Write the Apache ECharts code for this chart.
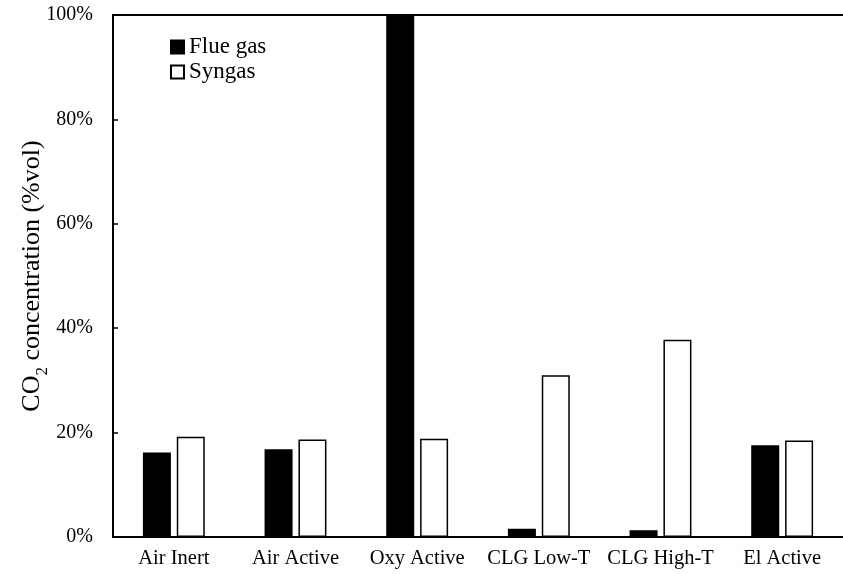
<!DOCTYPE html>
<html>
<head>
<meta charset="utf-8">
<script src="https://cdn.jsdelivr.net/npm/echarts@6/dist/echarts.min.js"></script>
<style>
  html, body { margin: 0; padding: 0; background: #fff; }
  #chart { width: 843px; height: 574px; }
</style>
</head>
<body>
<div id="chart"></div>
<script>
// CO2 concentration by operating mode
const categories = ['Air Inert', 'Air Active', 'Oxy Active', 'CLG Low-T', 'CLG High-T', 'El Active'];
const flueGas = [16.2, 16.8, 100, 1.6, 1.3, 17.6];
const syngas = [19.2, 18.7, 18.8, 31.0, 37.8, 18.5];
const seriesNames = ['Flue gas', 'Syngas'];

const FONT = '"Liberation Serif", "Times New Roman", serif';

const chart = echarts.init(document.getElementById('chart'));
chart.setOption({
  animation: false,
  textStyle: { fontFamily: FONT, color: '#000' },
  grid: { left: 113, right: 0, top: 15, bottom: 37, containLabel: false, outerBoundsMode: 'none' },
  legend: {
    orient: 'vertical',
    left: 165,
    top: 30,
    itemWidth: 13,
    itemHeight: 13,
    itemGap: 1,
    icon: 'rect',
    textStyle: { fontFamily: FONT, fontSize: 23, lineHeight: 24, color: '#000' },
    data: seriesNames
  },
  xAxis: [{
    type: 'category',
    data: categories,
    axisLine: { lineStyle: { color: '#000', width: 2 } },
    axisTick: { show: false },
    axisLabel: { fontFamily: FONT, fontSize: 20.5, color: '#000', margin: 11, interval: 0, hideOverlap: false }
  }, {
    type: 'category',
    position: 'top',
    data: categories,
    axisLine: { lineStyle: { color: '#000', width: 2 } },
    axisTick: { show: false },
    axisLabel: { show: false }
  }],
  yAxis: {
    type: 'value',
    min: 0,
    max: 100,
    interval: 20,
    name: '{a|CO}{s|2}{a| concentration (%vol)}',
    nameLocation: 'middle',
    nameGap: 68,
    nameMoveOverlap: false,
    nameRotate: 90,
    nameTextStyle: {
      rich: {
        a: { fontFamily: FONT, fontSize: 26, color: '#000', lineHeight: 30, verticalAlign: 'bottom' },
        s: { fontFamily: FONT, fontSize: 17, color: '#000', lineHeight: 30, verticalAlign: 'bottom', padding: [0, 0, -6, 0] }
      }
    },
    axisLine: { show: true, lineStyle: { color: '#000', width: 2 } },
    axisTick: { show: true, inside: true, length: 5, lineStyle: { color: '#000', width: 1.5 } },
    splitLine: { show: false },
    axisLabel: {
      fontFamily: FONT, fontSize: 20, color: '#000', margin: 20,
      formatter: v => v + '%'
    }
  },
  series: [{
    name: seriesNames[0],
    type: 'bar',
    data: flueGas,
    barWidth: 28,
    barGap: '21%',
    itemStyle: { color: '#000', borderColor: '#000', borderWidth: 1.5 }
  }, {
    name: seriesNames[1],
    type: 'bar',
    data: syngas,
    barWidth: 28,
    itemStyle: { color: '#fff', borderColor: '#000', borderWidth: 1.5 }
  }]
});
</script>
</body>
</html>
